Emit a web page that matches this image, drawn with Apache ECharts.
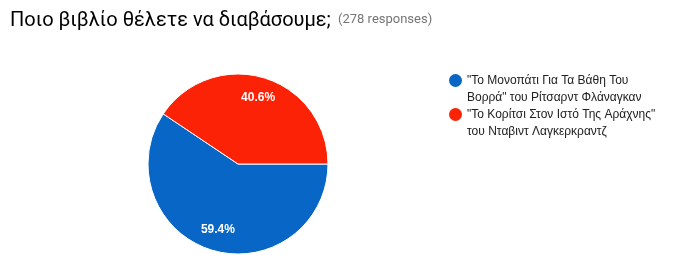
<!DOCTYPE html>
<html><head><meta charset="utf-8">
<script src="https://cdn.jsdelivr.net/npm/echarts@6/dist/echarts.min.js"></script>
<style>html,body{margin:0;padding:0;background:#fff}#c{width:692px;height:275px}</style>
</head><body><div id="c"></div>
<script>
const titleText = "Ποιο βιβλίο θέλετε να διαβάσουμε;";
const subtitleText = "(278 responses)";
const categories = ["\"Το Μονοπάτι Για Τα Βάθη Του Βορρά\" του Ρίτσαρντ Φλάναγκαν", "\"Το Κορίτσι Στον Ιστό Της Αράχνης\" του Νταβιντ Λαγκερκραντζ"];
const legendLines = [["\"Το Μονοπάτι Για Τα Βάθη Του", "Βορρά\" του Ρίτσαρντ Φλάναγκαν"], ["\"Το Κορίτσι Στον Ιστό Της Αράχνης\"", "του Νταβιντ Λαγκερκραντζ"]];
const values = [59.4, 40.6];
const colors = ["#0866c6", "#fc2206"];

const chart = echarts.init(document.getElementById('c'), null, {renderer: 'canvas'});
const pieData = categories.map((c, i) => ({name: c, value: values[i], itemStyle: {color: colors[i]}}));
chart.setOption({
  animation: false,
  title: [{
    text: titleText,
    left: 10, top: 11, padding: 0,
    textStyle: {fontFamily: 'Roboto', fontSize: 20, fontWeight: 'normal', color: '#000'}
  }, {
    text: subtitleText,
    left: 338, top: 13, padding: 0,
    textStyle: {fontFamily: 'Roboto', fontSize: 13, fontWeight: 'normal', color: '#757575'}
  }],
  legend: {
    orient: 'vertical',
    left: 449, top: 55, padding: 0,
    icon: 'circle',
    itemWidth: 13, itemHeight: 13,
    itemGap: -17,
    itemStyle: {borderWidth: 0},
    data: categories,
    formatter: function (name) { const l = legendLines[categories.indexOf(name)]; return '\n' + l[0] + '\n' + l[1]; },
    textStyle: {fontFamily: 'Liberation Sans, Arial', fontSize: 12, color: '#212121', lineHeight: 17}
  },
  series: [{
    type: 'pie',
    center: [238, 164],
    radius: 90,
    startAngle: 0,
    clockwise: true,
    label: {show: false},
    labelLine: {show: false},
    itemStyle: {borderColor: '#fff', borderWidth: 1},
    emphasis: {disabled: true},
    data: pieData
  }, {
    type: 'pie',
    center: [238, 164],
    radius: [42, 90],
    startAngle: 0,
    clockwise: true,
    silent: true,
    label: {
      position: 'inside',
      formatter: '{d}%',
      color: '#fff',
      fontFamily: 'Liberation Sans, Arial',
      fontSize: 12,
      fontWeight: 'bold'
    },
    labelLine: {show: false},
    itemStyle: {color: 'rgba(0,0,0,0)', borderWidth: 0},
    emphasis: {disabled: true},
    data: categories.map((c, i) => ({name: c, value: values[i]}))
  }]
});
</script></body></html>
